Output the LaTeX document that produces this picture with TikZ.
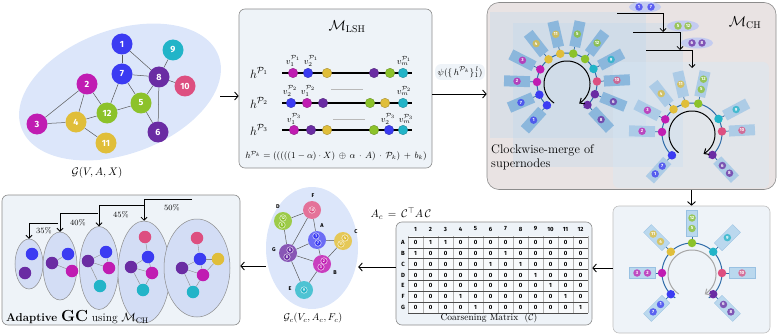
\documentclass[tikz,border=0pt]{standalone}
\usepackage{fontspec}
\usepackage{amsmath,amssymb}
\usetikzlibrary{arrows.meta,shapes.geometric,calc}
\newfontfamily\nf{Fira Sans}
\definecolor{cb}{HTML}{3B3BF2}
\definecolor{cv}{HTML}{6A2CA3}
\definecolor{ct}{HTML}{22B4C8}
\definecolor{cp}{HTML}{DD4F80}
\definecolor{cm}{HTML}{C01CB2}
\definecolor{cg}{HTML}{8CC22A}
\definecolor{cy}{HTML}{E0BE3A}
\definecolor{gbg}{HTML}{DCE6FA}
\definecolor{boxbg}{HTML}{EEF3F8}
\definecolor{mchbg}{HTML}{E9E3E3}
\definecolor{rb1}{HTML}{7FB1DB}
\definecolor{rb2}{HTML}{A5C8E6}
\definecolor{rb3}{HTML}{BAD8EE}
\definecolor{arcb}{HTML}{2E6BA8}
\definecolor{ellbg}{HTML}{D3DDF5}
\definecolor{pillc}{HTML}{C4CCF0}
\newcount\nc
\newcommand\bump{\global\advance\nc by 1\relax}
\tikzset{
 box/.style={draw=black!45, line width=.6pt, rounded corners=6pt, fill=boxbg, inner sep=0pt},
 gn/.style={circle, minimum size=21pt, inner sep=0pt, fill=#1, text=white, font=\nf\bfseries\fontsize{9}{9}\selectfont},
 ge/.style={draw=black!65, line width=.5pt},
 arr/.style={-{Straight Barb[length=3.5pt,width=8pt]}, line width=.9pt},
 ld/.style={circle, minimum size=9.5pt, inner sep=0pt, fill=#1, draw=#1!70!black, line width=.3pt},
 vl/.style={font=\fontsize{9}{9}\selectfont, inner sep=0pt},
 rect1/.style={rectangle, minimum width=26pt, minimum height=11pt, inner sep=0pt, fill=rb1, fill opacity=.85},
 rect2/.style={rectangle, minimum width=26pt, minimum height=11pt, inner sep=0pt, fill=rb2, fill opacity=.85},
 rect3/.style={rectangle, minimum width=26pt, minimum height=11pt, inner sep=0pt, fill=rb3, draw=rb1!80, line width=.3pt},
 lc/.style={circle, fill=#1, fill opacity=.75, text opacity=1, text=white, minimum size=7.5pt, inner sep=0pt, font=\nf\bfseries\fontsize{4.5}{4.5}\selectfont},
 rd/.style={circle, fill=#1, minimum size=8.5pt, inner sep=0pt},
 tick/.style={draw=arcb, line width=.7pt},
 arcline/.style={draw=arcb, line width=1pt},
 pill/.style={ellipse, fill=pillc, minimum width=32pt, minimum height=11pt, inner sep=0pt},
 cn/.style={circle, minimum size=18pt, inner sep=0pt, fill=#1},
 clc/.style={circle, draw=white, line width=.4pt, fill=#1, minimum size=6.5pt, inner sep=0pt, text=white, font=\nf\bfseries\fontsize{4}{4}\selectfont},
 clet/.style={font=\nf\bfseries\fontsize{5.5}{5.5}\selectfont, inner sep=0pt},
 ell/.style={ellipse, draw=black!45, line width=.5pt, fill=ellbg, inner sep=0pt},
 sd/.style={circle, minimum size=12.5pt, inner sep=0pt, fill=#1},
 se/.style={draw=black!45, line width=.4pt},
 mnum/.style={font=\nf\bfseries\fontsize{6}{6}\selectfont, inner sep=0pt},
 barr/.style={-{Straight Barb[length=3pt,width=6pt]}, line width=.8pt},
}
% single label unit on a ring: cx cy rectstyle angle color label
\newcommand\ringS[6]{%
 \draw[tick] ({#1+30*cos(#4)},{#2-30*sin(#4)}) -- ({#1+37*cos(#4)},{#2-37*sin(#4)});
 \bump\node[#3, rotate=#4, name=u\the\nc] at ({#1+50*cos(#4)},{#2-50*sin(#4)}) {};
 \bump\node[lc=#5, name=u\the\nc] at ({#1+50*cos(#4)},{#2-50*sin(#4)}) {#6};
 \bump\node[rd=#5, name=u\the\nc] at ({#1+30*cos(#4)},{#2-30*sin(#4)}) {};}
% double label unit: cx cy rectstyle angle color inner outer
\newcommand\ringD[7]{%
 \draw[tick] ({#1+30*cos(#4)},{#2-30*sin(#4)}) -- ({#1+37*cos(#4)},{#2-37*sin(#4)});
 \bump\node[#3, rotate=#4, name=u\the\nc] at ({#1+50*cos(#4)},{#2-50*sin(#4)}) {};
 \bump\node[lc=#5, name=u\the\nc] at ({#1+44.5*cos(#4)},{#2-44.5*sin(#4)}) {#6};
 \bump\node[lc=#5, name=u\the\nc] at ({#1+55*cos(#4)},{#2-55*sin(#4)}) {#7};
 \bump\node[rd=#5, name=u\the\nc] at ({#1+30*cos(#4)},{#2-30*sin(#4)}) {};}
\newcommand\ringArc[2]{%
 \draw[arcline] plot[domain=236:-56,samples=90,variable=\t] ({#1+30*cos(\t)},{#2-30*sin(\t)});}
\begin{document}
\begin{tikzpicture}[x=1pt,y=-1pt]
\useasboundingbox (0,0) rectangle (778,334);

% ---------------- Panel 1: input graph ----------------
\fill[gbg, rotate around={20:(120,92)}] (120,92) ellipse [x radius=105, y radius=62];
\node[gn=cb] (n1) at (122,44) {1};
\node[gn=ct] (n9) at (173,50) {9};
\node[gn=cb] (n7) at (122,74) {7};
\node[gn=cv] (n8) at (159,77) {8};
\node[gn=cp] (n10) at (185,86) {10};
\node[gn=cm] (n2) at (87,84) {2};
\node[gn=cg] (n5) at (141,103) {5};
\node[gn=cg] (n12) at (107,113) {12};
\node[gn=cm] (n3) at (37,124) {3};
\node[gn=cy] (n4) at (76,122) {4};
\node[gn=cv] (n6) at (158,132) {6};
\node[gn=cy] (n11) at (106,143) {11};
\foreach \u/\v in {n1/n7,n1/n8,n9/n8,n7/n8,n7/n5,n7/n12,n8/n10,n8/n5,n8/n6,n5/n6,n5/n12,n2/n12,n2/n4,n2/n3,n3/n4,n4/n12,n4/n11}
  \draw[ge] (\u) -- (\v);
\node[font=\fontsize{11}{11}\selectfont] (glab) at (97,173) {$\mathcal{G}(V,A,X)$};
\coordinate (a1s) at (220,96);

% ---------------- Panel 2: LSH ----------------
\node[box, minimum width=193pt, minimum height=159pt] (lsh) at (335.5,88.5) {};
\draw[arr] (a1s) -- (lsh.west |- a1s);
\node[font=\fontsize{14}{14}\selectfont] (lsht) at (347,27) {$\mathcal{M}_{\mathrm{LSH}}$};
\foreach \y/\k in {73/1,103/2,130/3}{
  \node[font=\fontsize{13}{13}\selectfont] (hl\k) at (259,\y) {$h^{\mathcal{P}_{\k}}$};
  \draw[line width=1.1pt] (282,\y) -- (412,\y);
}
\draw[gray!55, line width=1pt] (331,90) -- (363,90);
\draw[gray!55, line width=1pt] (333,119) -- (365,119);
\foreach \x/\c [count=\k] in {293/cm,308/cb,327/cy,374/cv,390/cg,403/ct}
  \node[ld=\c] (ra\k) at (\x,73) {};
\foreach \x/\c [count=\k] in {291/cb,307/cm,323/cv,370/cg,385/cy,403/ct}
  \node[ld=\c] (rb\k) at (\x,103) {};
\foreach \x/\c [count=\k] in {294/cm,311/cv,327/cy,374/cg,389/cb,403/ct}
  \node[ld=\c] (rc\k) at (\x,130) {};
\node[vl] (va1) at (293,61) {$v_1^{\mathcal{P}_1}$};
\node[vl] (va2) at (311,61) {$v_2^{\mathcal{P}_1}$};
\node[vl] (va3) at (404,61) {$v_m^{\mathcal{P}_1}$};
\node[vl] (vb1) at (290,91) {$v_2^{\mathcal{P}_2}$};
\node[vl] (vb2) at (308,91) {$v_1^{\mathcal{P}_2}$};
\node[vl] (vb3) at (404,91) {$v_m^{\mathcal{P}_2}$};
\node[vl] (vc1) at (294,119) {$v_1^{\mathcal{P}_3}$};
\node[vl] (vc2) at (388,119) {$v_2^{\mathcal{P}_3}$};
\node[vl] (vc3) at (406,119) {$v_m^{\mathcal{P}_3}$};
\node[font=\fontsize{9.2}{9.2}\selectfont, inner sep=0pt] (form) at (336,156)
 {$h^{\mathcal{P}_k}=(((((1-\alpha)\cdot X)\,\oplus\,\alpha\,\cdot\,A)\,\cdot\,\mathcal{P}_k)\,+\,b_k)$};

% ---------------- Panel 3: M_CH ----------------
\node[box, fill=mchbg, rounded corners=12pt, minimum width=289pt, minimum height=187pt] (mch) at (631.5,96) {};
\node[fill=boxbg, rounded corners=6pt, inner sep=2.5pt, font=\fontsize{9.5}{9.5}\selectfont] (psi) at (460,72) {$\psi(\{\,h^{\mathcal{P}_k}\}_1^{\,l})$};
\draw[arr] (lsh.east |- 0,94) -- (mch.west |- 0,94);
\fill[rb3, opacity=.3] (490,12) rectangle (646,138);
\fill[rb3, opacity=.3] (513,23) rectangle (683,167);
\fill[rb3!60!white, opacity=.4, rounded corners=6pt] (613,62) rectangle (769,188);
\node[font=\fontsize{14}{14}\selectfont] (mcht) at (745,23) {$\mathcal{M}_{\mathrm{CH}}$};
\node[font=\fontsize{12.5}{14}\selectfont, align=left, anchor=west, inner sep=0pt] (cwm) at (491,157) {Clockwise-merge of\\supernodes};

% ring 1
\ringArc{567}{83}
\foreach \a/\c/\n in {228/cb/1,203/cb/7,178/cm/2,153/cm/3,128/cy/4,103/cy/11,78/cg/5,53/cg/12,28/ct/9,3/cp/10,-22/cv/6,-47/cv/8}
  {\ringS{567}{83}{rect1}{\a}{\c}{\n}}
\draw[-{Straight Barb[length=4pt,width=7pt]}, line width=1pt] plot[domain=236:-58,samples=90,variable=\t] ({567+23*cos(\t)},{84-23*sin(\t)});
% ring 2
\ringArc{692}{133}
\foreach \a/\c/\n in {178/cm/2,153/cm/3,128/cy/4,103/cy/11,28/ct/9,3/cp/10}
  {\ringS{692}{133}{rect2}{\a}{\c}{\n}}
\foreach \a/\c/\n/\m in {228/cb/7/1,78/cg/5/12,-47/cv/6/8}
  {\ringD{692}{133}{rect2}{\a}{\c}{\n}{\m}}
\draw[-{Straight Barb[length=4pt,width=7pt]}, line width=1pt] plot[domain=234:-60,samples=90,variable=\t] ({692+23*cos(\t)},{134-23*sin(\t)});

% merge pills
\node[pill] (p1) at (645,7) {};
\node[lc=cb] (p1a) at (639,7) {1};
\node[lc=cb] (p1b) at (651,7) {7};
\node[pill] (p2) at (683,26) {};
\node[lc=cg] (p2a) at (678,26) {5};
\node[lc=cg] (p2b) at (688,26) {12};
\node[pill] (p3) at (697,43) {};
\node[lc=cv] (p3a) at (692,43) {6};
\node[lc=cv] (p3b) at (702,43) {8};
\coordinate (m1s) at (617,13);
\coordinate (m1e) at (663,32);
\coordinate (m2s) at (633,32);
\coordinate (m2e) at (680,50);
\coordinate (m3s) at (646,50);
\coordinate (m3e) at (692,68);
\draw[barr] (m1s) -| (m1e);
\draw[barr] (m2s) -| (m2e);
\draw[barr] (m3s) -| (m3e);

% ---------------- Panel 4: final ring ----------------
\node[box, draw=black!25, minimum width=157pt, minimum height=127pt] (fin) at (691.5,269.5) {};
\draw[arr] (mch.south -| fin.north) -- (fin.north);
\ringArc{692}{273}
\foreach \a/\c/\n in {45/ct/9,0/cp/10}
  {\ringS{692}{273}{rect3}{\a}{\c}{\n}}
\foreach \a/\c/\n/\m in {225/cb/1/7,180/cm/2/3,135/cy/4/11,90/cg/5/12,-45/cv/6/8}
  {\ringD{692}{273}{rect3}{\a}{\c}{\n}{\m}}
\draw[black!35, -{Straight Barb[length=4pt,width=7pt]}, line width=1pt] plot[domain=236:-58,samples=90,variable=\t] ({692+24*cos(\t)},{274-24*sin(\t)});

% ---------------- Panel 5: coarsening matrix ----------------
\node[box, minimum width=196pt, minimum height=103pt] (mat) at (494,273.5) {};
\draw[arr] (fin.west |- 0,268) -- (mat.east |- 0,268);
\fill[white!60!boxbg] (408,236) rectangle (588,313);
\foreach \k in {0,...,12} \draw[black!30, line width=.4pt] ({408+15*\k},236) -- ({408+15*\k},313);
\foreach \k in {0,...,7} \draw[black!70, line width=.6pt] (408,{237+10.86*\k}) -- (588,{237+10.86*\k});
\foreach \j in {1,...,12} \node[mnum] (mh\j) at ({400.5+15*\j},229) {\j};
\foreach \r/\vals [count=\i] in {A/{0,1,1,0,0,0,0,0,0,0,0,0},B/{1,0,0,0,0,0,1,0,0,0,0,0},C/{0,0,0,0,0,1,0,1,0,0,0,0},D/{0,0,0,0,0,0,0,0,1,0,0,0},E/{0,0,0,0,0,0,0,0,0,1,0,0},F/{0,0,0,1,0,0,0,0,0,0,1,0},G/{0,0,0,0,1,0,0,0,0,0,0,1}}{
  \node[mnum] (mr\i) at (403,{237+10.86*(\i-0.5)}) {\r};
  \foreach \v [count=\j] in \vals \node[mnum] (m\i x\j) at ({400.5+15*\j},{237+10.86*(\i-0.5)}) {\v};
}
\node[font=\fontsize{9.5}{9.5}\selectfont] (matl) at (489,318.5) {Coarsening Matrix \ ($\mathcal{C}$)};
\node[font=\fontsize{11}{11}\selectfont] (acl) at (401,214) {$A_c\,=\,\mathcal{C}^{\top}A\,\mathcal{C}$};

% ---------------- Panel 6: coarsened graph ----------------
\node[ellipse, fill=gbg, minimum width=92pt, minimum height=122pt, inner sep=0pt] (cg) at (312,248) {};
\draw[arr] (mat.west |- 0,267) -- (cg.east |- 0,267);
\node[cn=cp!80] (cF) at (312,210) {};
\node[cn=cg!85] (cD) at (283,221) {};
\node[cn=cb!75] (cA) at (317,240) {};
\node[cn=cy!85] (cC) at (343,241) {};
\node[cn=cv!80] (cG) at (288,253) {};
\node[cn=cm!85] (cB) at (322,264) {};
\node[cn=ct!80] (cE) at (304,290) {};
\foreach \u/\v in {cD/cF,cF/cA,cF/cG,cD/cG,cG/cA,cA/cC,cA/cB,cC/cB,cG/cB,cG/cE,cB/cE}
  \draw[ge] (\u) -- (\v);
\node[clc=cp] (lF) at (312,210) {10};
\node[clc=cg] (lD1) at (283,218) {12};
\node[clc=cg] (lD2) at (282,225) {5};
\node[clc=cb] (lA1) at (316,236) {1};
\node[clc=cb] (lA2) at (318,243) {7};
\node[clc=cy] (lC1) at (345,238) {4};
\node[clc=cy] (lC2) at (341,244) {11};
\node[clc=cv] (lG1) at (290,250) {6};
\node[clc=cv] (lG2) at (287,257) {8};
\node[clc=cm] (lB1) at (324,261) {2};
\node[clc=cm] (lB2) at (321,267) {3};
\node[clc=ct] (lE) at (304,290) {9};
\node[clet] (tF) at (313,196) {F};
\node[clet] (tD) at (278,207) {D};
\node[clet] (tA) at (322,226) {A};
\node[clet] (tC) at (356,232) {C};
\node[clet] (tG) at (274,250) {G};
\node[clet] (tB) at (335,273) {B};
\node[clet] (tE) at (290,289) {E};
\node[font=\fontsize{10}{10}\selectfont] (cgl) at (313,318) {$\mathcal{G}_c(V_c,A_c,F_c)$};

% ---------------- Panel 7: adaptive GC ----------------
\node[box, minimum width=238pt, minimum height=130pt] (ada) at (121,260) {};
\draw[arr] (cg.west |- 0,266) -- (ada.east |- 0,266);
\node[ell, minimum width=28pt, minimum height=50pt] (e1) at (29,264) {};
\node[ell, minimum width=34pt, minimum height=68pt] (e2) at (60,266) {};
\node[ell, minimum width=39pt, minimum height=83pt] (e3) at (99,268) {};
\node[ell, minimum width=52pt, minimum height=102pt] (e4) at (144,272) {};
\node[ell, minimum width=66pt, minimum height=98pt] (e5) at (197,268) {};
% e1
\node[sd=cb] (a1b) at (32,254) {};
\node[sd=cv] (a1v) at (25,273) {};
% e2
\node[sd=cb] (a2b) at (68,254) {};
\node[sd=cv] (a2v) at (52,263) {};
\node[sd=cm] (a2m) at (72,271) {};
\draw[se] (a2v) -- (a2b); \draw[se] (a2v) -- (a2m);
% e3
\node[sd=cb] (a3b) at (106,252) {};
\node[sd=cv] (a3v) at (88,261) {};
\node[sd=cm] (a3m) at (109,268) {};
\node[sd=ct] (a3t) at (100,286) {};
\foreach \u/\v in {a3v/a3b,a3v/a3m,a3v/a3t,a3b/a3m} \draw[se] (\u) -- (\v);
% e4
\node[sd=cp] (a4p) at (145,237) {};
\node[sd=cb] (a4b) at (148,257) {};
\node[sd=cv] (a4v) at (131,267) {};
\node[sd=cm] (a4m) at (152,273) {};
\node[sd=ct] (a4t) at (143,290) {};
\foreach \u/\v in {a4p/a4b,a4v/a4b,a4v/a4m,a4b/a4m,a4v/a4t,a4m/a4t} \draw[se] (\u) -- (\v);
% e5
\node[sd=cp] (a5p) at (197,238) {};
\node[sd=cb] (a5b) at (200,259) {};
\node[sd=cy] (a5y) at (218,259) {};
\node[sd=cv] (a5v) at (182,268) {};
\node[sd=cm] (a5m) at (203,275) {};
\node[sd=ct] (a5t) at (193,292) {};
\foreach \u/\v in {a5p/a5b,a5b/a5y,a5v/a5b,a5v/a5m,a5b/a5m,a5m/a5y,a5v/a5t,a5m/a5t} \draw[se] (\u) -- (\v);
% brackets
\coordinate (bA) at (58,223);
\coordinate (bB) at (98,213);
\coordinate (bC) at (145,205);
\coordinate (bD) at (192,199);
\draw[barr] (bA) -| (e1.north);
\draw[barr] (bB) -| (e2.north);
\draw[barr] (bC) -| (e3.north);
\draw[barr] (bD) -| (e4.north);
\node[font=\fontsize{8}{8}\selectfont] (pA) at (44,231) {35\%};
\node[font=\fontsize{8}{8}\selectfont] (pB) at (78,223) {40\%};
\node[font=\fontsize{8}{8}\selectfont] (pC) at (121,215) {45\%};
\node[font=\fontsize{8}{8}\selectfont] (pD) at (172,208) {50\%};
\node[anchor=west, inner sep=0pt] (adl) at (6,317) {\fontsize{11.5}{12}\selectfont\textbf{Adaptive} {\fontsize{16}{16}\selectfont\textbf{GC}} using $\mathcal{M}_{\mathrm{CH}}$};
\end{tikzpicture}
\end{document}
